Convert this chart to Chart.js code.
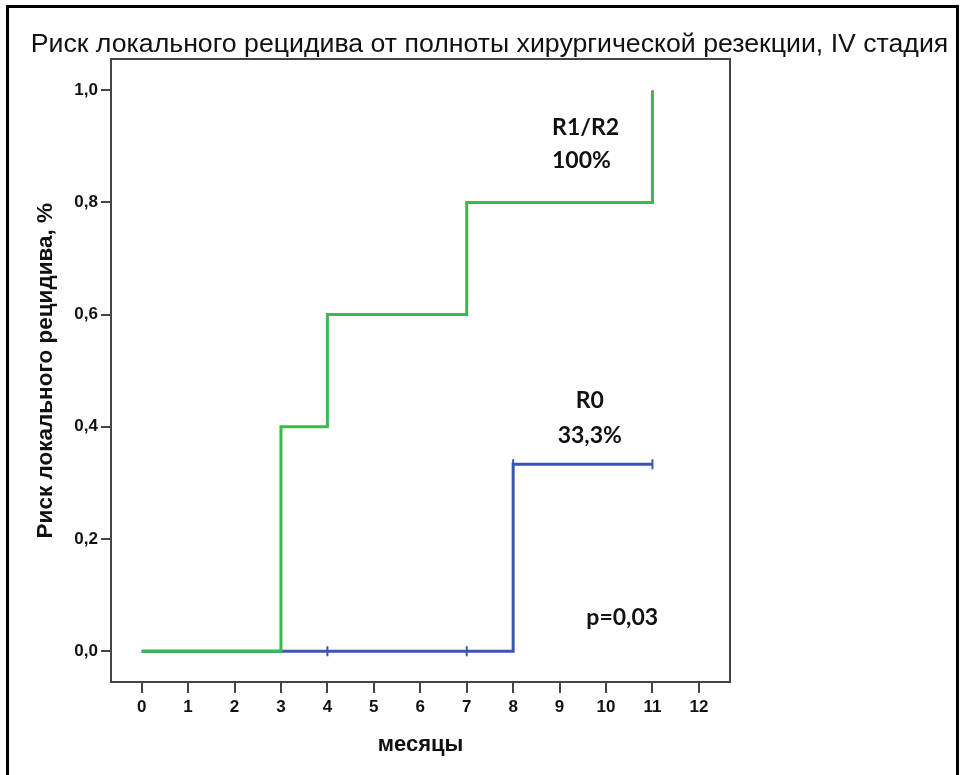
<!DOCTYPE html>
<html>
<head>
<meta charset="utf-8">
<script src="https://cdn.jsdelivr.net/npm/chart.js@4.4.1/dist/chart.umd.min.js"></script>
<style>
  body { margin: 0; background: #fff; }
  #wrap { position: relative; width: 965px; height: 775px; }
  #frame { position: absolute; left: 6px; top: 5px; width: 947px; height: 775px;
           border: 3px solid #000; border-bottom: none; pointer-events: none; }
  canvas { position: absolute; left: 0; top: 0; }
</style>
</head>
<body>
<div id="wrap">
  <canvas id="kmChart" width="965" height="775"></canvas>
  <div id="frame"></div>
</div>
<script>
// months where the curve steps, and cumulative risk after each step
var r12Months = [0, 3, 4, 7, 11];
var r12Risk = [0, 0.4, 0.6, 0.8, 1.0];
var r0Months = [0, 8, 11];
var r0Risk = [0, 0.333, 0.333];
// censored cases (R0)
var censorMonths = [4, 7, 8, 11];
var censorRisk = [0, 0, 0.333, 0.333];

var xTicks = [0, 1, 2, 3, 4, 5, 6, 7, 8, 9, 10, 11, 12];
var yTicks = [0, 0.2, 0.4, 0.6, 0.8, 1.0];
var yTickLabels = ['0,0', '0,2', '0,4', '0,6', '0,8', '1,0'];

var notes = [
    { text: 'R1/R2', x: 9.56, y: 0.934 },
    { text: '100%', x: 9.47, y: 0.875 },
    { text: 'R0', x: 9.65, y: 0.447 },
    { text: '33,3%', x: 9.65, y: 0.385 },
    { text: 'p=0,03', x: 10.35, y: 0.06 }
];

var GREEN = '#3cb94b';
var BLUE = '#3c55b4';
var AXIS = '#444444';

function toPoints(xs, ys) {
    var pts = [];
    for (var i = 0; i < xs.length; i++) {
        pts.push({ x: xs[i], y: ys[i] });
    }
    return pts;
}

var notesPlugin = {
    id: 'notes',
    afterDatasetsDraw: function (chart) {
        var ctx = chart.ctx;
        var xs = chart.scales.x;
        var ys = chart.scales.y;
        ctx.save();
        ctx.fillStyle = '#111';
        ctx.font = 'bold 23px Lato';
        ctx.textAlign = 'center';
        ctx.textBaseline = 'middle';
        notes.forEach(function (n) {
            ctx.fillText(n.text, xs.getPixelForValue(n.x), ys.getPixelForValue(n.y));
        });
        ctx.restore();
    }
};

var ctx = document.getElementById('kmChart').getContext('2d');

var myChart = new Chart(ctx, {
    type: 'line',
    data: {
        datasets: [{
            label: 'R1/R2',
            data: toPoints(r12Months, r12Risk),
            borderColor: GREEN,
            borderWidth: 3,
            stepped: 'before',
            pointRadius: 0,
            fill: false
        }, {
            label: 'R0 censored',
            data: toPoints(censorMonths, censorRisk),
            showLine: false,
            pointStyle: 'line',
            rotation: 90,
            pointRadius: 5,
            pointBorderWidth: 2,
            pointBorderColor: BLUE,
            borderColor: BLUE
        }, {
            label: 'R0',
            data: toPoints(r0Months, r0Risk),
            borderColor: BLUE,
            borderWidth: 3,
            stepped: 'before',
            pointRadius: 0,
            fill: false
        }]
    },
    options: {
        responsive: false,
        animation: false,
        layout: { padding: { left: 30, right: 16, top: 0, bottom: 10 } },
        plugins: {
            legend: { display: false },
            tooltip: { enabled: false },
            title: {
                display: true,
                text: 'Риск локального рецидива от полноты хирургической резекции, IV стадия',
                color: '#111',
                font: { family: 'Liberation Sans', size: 26.7, weight: 'normal', lineHeight: 1.1 },
                padding: { top: 30, bottom: 0 }
            }
        },
        scales: {
            x: {
                type: 'linear',
                min: -0.66,
                max: 12.67,
                afterBuildTicks: function (axis) {
                    axis.ticks = xTicks.map(function (v) { return { value: v }; });
                },
                afterFit: function (axis) { axis.height = 83; },
                grid: { drawOnChartArea: false, drawTicks: true, tickLength: 11, tickColor: AXIS, lineWidth: 2 },
                border: { display: true, color: AXIS, width: 2 },
                ticks: {
                    color: '#111',
                    padding: 4,
                    maxRotation: 0,
                    autoSkip: false,
                    font: { family: 'Liberation Sans', size: 17, weight: 'bold' }
                },
                title: {
                    display: true,
                    text: 'месяцы',
                    color: '#111',
                    font: { family: 'Liberation Sans', size: 22, weight: 'bold' },
                    padding: { top: 0, bottom: 7 }
                }
            },
            x2: {
                type: 'linear',
                position: 'top',
                min: -0.66,
                max: 12.67,
                afterFit: function (axis) { axis.height = 0; },
                grid: { display: false },
                ticks: { display: false },
                border: { display: true, color: AXIS, width: 2 }
            },
            y: {
                type: 'linear',
                min: -0.055,
                max: 1.055,
                afterBuildTicks: function (axis) {
                    axis.ticks = yTicks.map(function (v) { return { value: v }; });
                },
                afterFit: function (axis) { axis.width = 81; },
                grid: { drawOnChartArea: false, drawTicks: true, tickLength: 10, tickColor: AXIS, lineWidth: 2 },
                border: { display: true, color: AXIS, width: 2 },
                ticks: {
                    color: '#111',
                    padding: 3,
                    autoSkip: false,
                    font: { family: 'Liberation Sans', size: 17, weight: 'bold' },
                    callback: function (value, index) { return yTickLabels[index]; }
                },
                title: {
                    display: true,
                    text: 'Риск локального рецидива, %',
                    color: '#111',
                    font: { family: 'Liberation Sans', size: 22.5, weight: 'bold' },
                    padding: { top: 2, bottom: 0 }
                }
            },
            y2: {
                type: 'linear',
                position: 'right',
                min: -0.055,
                max: 1.055,
                afterFit: function (axis) { axis.width = 219; },
                grid: { display: false },
                ticks: { display: false },
                border: { display: true, color: AXIS, width: 2 }
            }
        }
    },
    plugins: [notesPlugin]
});
</script>
</body>
</html>
